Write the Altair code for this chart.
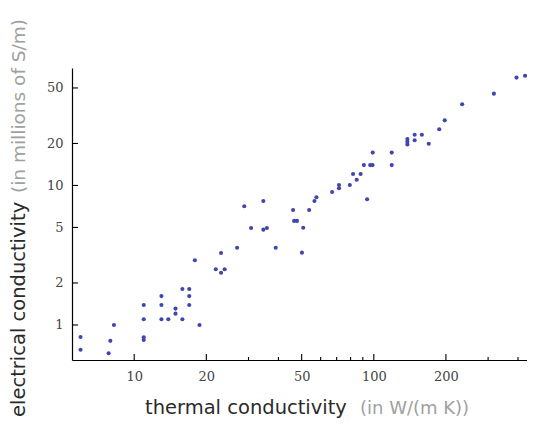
import altair as alt
import pandas as pd

# thermal conductivity (W/(m K)) and electrical conductivity (millions of S/m)
thermal = [5.97, 5.97, 7.82, 7.95, 8.23, 10.96, 10.96, 10.96, 10.96, 12.99,
           12.99, 12.99, 13.88, 14.87, 14.87, 15.89, 15.89, 16.97, 16.97, 16.97,
           17.91, 18.73, 21.90, 23.04, 23.04, 23.85, 26.88, 30.76, 34.59, 35.79,
           38.96, 28.80, 34.59, 46.04, 46.5, 47.8, 50.75, 50.13, 53.72, 56.54,
           57.62, 66.99, 71.58, 71.58, 79.43, 81.93, 84.84, 88.11, 90.9, 93.8,
           96.6, 98.8, 98.97, 118.8, 118.8, 138.1, 138.1, 138.1, 148.1, 148.1,
           158.7, 169.6, 187.6, 197.8, 233.8, 317.1, 394.1, 427.8]
electrical = [0.82, 0.665, 0.627, 0.77, 1.0, 1.39, 1.10, 0.816, 0.78, 1.61,
              1.39, 1.10, 1.10, 1.31, 1.205, 1.81, 1.10, 1.81, 1.61, 1.39,
              2.91, 1.0, 2.51, 3.28, 2.37, 2.51, 3.58, 4.96, 4.82, 4.96,
              3.58, 7.1, 7.74, 6.67, 5.57, 5.57, 4.98, 3.30, 6.67, 7.74,
              8.23, 8.98, 10.08, 9.55, 10.08, 12.09, 11.0, 12.09, 14.0, 7.96,
              14.0, 14.0, 17.2, 17.2, 14.0, 21.5, 20.6, 19.7, 23.1, 21.1,
              23.1, 19.9, 25.3, 29.3, 38.2, 45.5, 59.3, 61.2]

x_major = [10, 20, 50, 100, 200]
x_minor = [30, 40, 60, 70, 80, 90, 300, 400]
y_major = [1, 2, 5, 10, 20, 50]

x_title = ["thermal conductivity", "(in W/(m K))"]
y_title = ["electrical conductivity", "(in millions of S/m)"]

x_domain = [5.5, 436]
y_domain = [0.561, 69.5]

W, H = 455, 292

pts = pd.DataFrame({"x": thermal, "y": electrical})

xaxis = alt.Axis(values=x_major, format="d", ticks=False, grid=False,
                 domainColor="black", domainWidth=1.2, labelFont="DejaVu Serif",
                 labelFontSize=13, labelColor="#444", labelPadding=10, title=None)
yaxis = alt.Axis(values=y_major, format="d", ticks=False, grid=False,
                 domainColor="black", domainWidth=1.2, labelFont="DejaVu Serif",
                 labelFontSize=13, labelColor="#444", labelPadding=9, title=None)


def X(field="x"):
    return alt.X(f"{field}:Q", scale=alt.Scale(type="log", domain=x_domain, nice=False), axis=xaxis)


def Y(field="y"):
    return alt.Y(f"{field}:Q", scale=alt.Scale(type="log", domain=y_domain, nice=False), axis=yaxis)


points = alt.Chart(pts).mark_circle(size=17, color="#4046b0", opacity=1).encode(
    x=X(), y=Y()
)

xmaj = alt.Chart(pd.DataFrame({"x": x_major})).mark_rule(color="black", strokeWidth=1.1).encode(
    x=X(), y=alt.value(H), y2=alt.value(H - 6)
)
xmin = alt.Chart(pd.DataFrame({"x": x_minor})).mark_rule(color="black", strokeWidth=1.1).encode(
    x=X(), y=alt.value(H), y2=alt.value(H - 3)
)
ymaj = alt.Chart(pd.DataFrame({"y": y_major})).mark_rule(color="black", strokeWidth=1.1).encode(
    y=Y(), x=alt.value(0), x2=alt.value(6)
)

xt1 = alt.Chart(pd.DataFrame({"t": [x_title[0]]})).mark_text(
    align="left", baseline="alphabetic", font="DejaVu Sans", fontSize=19.5, color="#2a2a2a"
).encode(text="t:N", x=alt.value(73), y=alt.value(346))
xt2 = alt.Chart(pd.DataFrame({"t": [x_title[1]]})).mark_text(
    align="left", baseline="alphabetic", font="DejaVu Sans", fontSize=18, color="#a0a0a0"
).encode(text="t:N", x=alt.value(288), y=alt.value(346))
yt1 = alt.Chart(pd.DataFrame({"t": [y_title[0]]})).mark_text(
    align="left", baseline="middle", angle=270, font="DejaVu Sans", fontSize=19.5, color="#2a2a2a"
).encode(text="t:N", x=alt.value(-53), y=alt.value(349))
yt2 = alt.Chart(pd.DataFrame({"t": [y_title[1]]})).mark_text(
    align="left", baseline="middle", angle=270, font="DejaVu Sans", fontSize=18.5, color="#a0a0a0"
).encode(text="t:N", x=alt.value(-53), y=alt.value(125))

chart = alt.layer(points, xmaj, xmin, ymaj, xt1, xt2, yt1, yt2).properties(
    width=W, height=H,
    autosize=alt.AutoSizeParams(type="none"),
    padding={"left": 64, "top": 60, "right": 0, "bottom": 58},
).configure_view(stroke=None)

chart.save("out.html", embed_options={"renderer": "svg", "actions": False})
